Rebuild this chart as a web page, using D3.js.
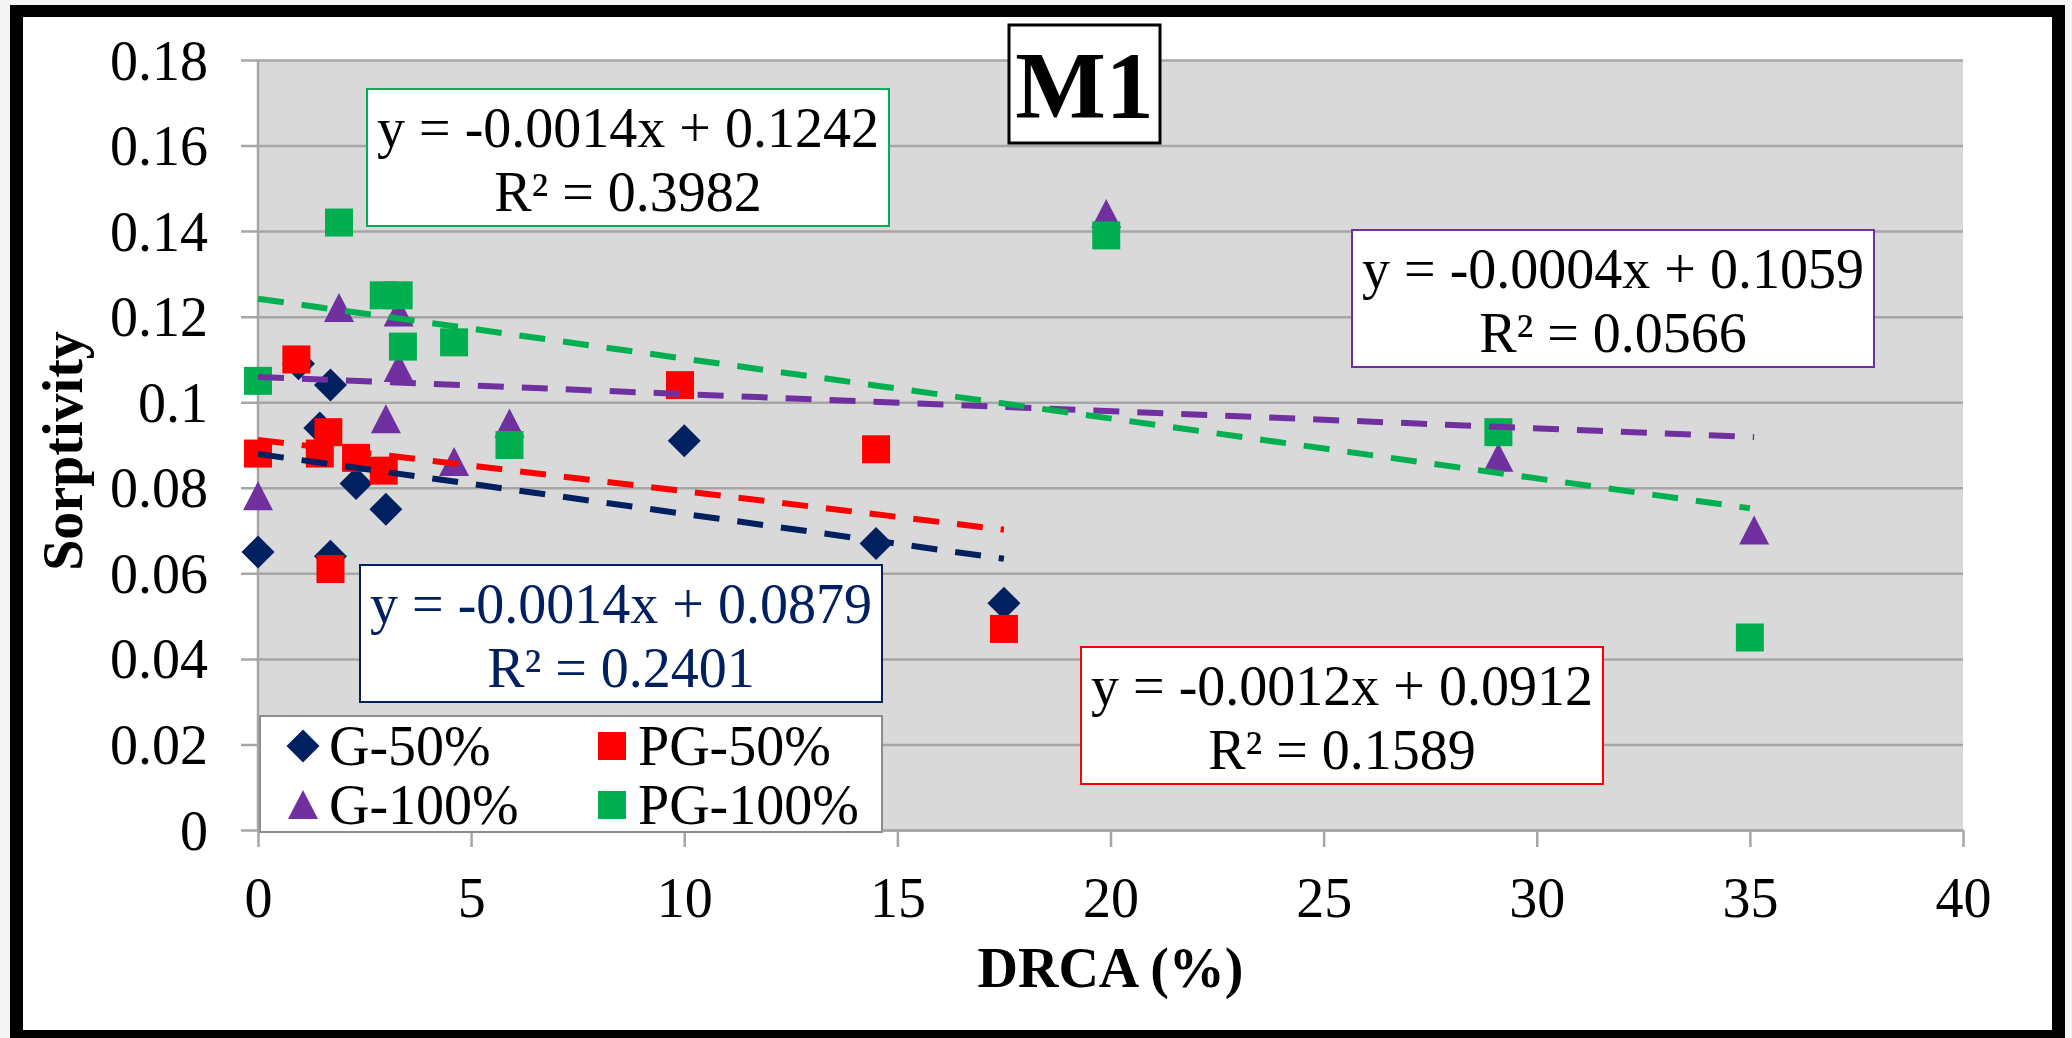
<!DOCTYPE html>
<html>
<head>
<meta charset="utf-8">
<script src="https://cdn.jsdelivr.net/npm/d3@7"></script>
<style>
  html, body { margin: 0; padding: 0; background: #f5f5f5; }
  svg { display: block; font-family: "Liberation Serif", "Times New Roman", serif; }
</style>
</head>
<body>
<svg id="chart" width="2072" height="1038"></svg>
<script>
// ---- data ----
const seriesNames  = ["G-50%", "PG-50%", "G-100%", "PG-100%"];
const seriesColors = ["#002060", "#FF0000", "#7030A0", "#00B050"];
const seriesShapes = ["diamond", "square", "triangle", "square"];

const g50X  = [0, 0.95, 1.45, 1.7, 1.7, 2.3, 3.0, 10.0, 14.5, 17.5];
const g50Y  = [0.065, 0.109, 0.094, 0.104, 0.064, 0.081, 0.075, 0.091, 0.067, 0.053];
const pg50X = [0, 0.9, 1.45, 1.65, 1.7, 2.3, 2.95, 9.9, 14.5, 17.5];
const pg50Y = [0.088, 0.110, 0.088, 0.093, 0.061, 0.087, 0.084, 0.104, 0.089, 0.047];
const g100X = [0, 1.9, 3.0, 3.3, 3.3, 4.6, 5.9, 19.9, 29.1, 35.1];
const g100Y = [0.078, 0.122, 0.096, 0.121, 0.108, 0.086, 0.095, 0.144, 0.087, 0.070];
const pg100X = [0, 1.9, 2.95, 3.3, 3.4, 4.6, 5.9, 19.9, 29.1, 35.0];
const pg100Y = [0.105, 0.142, 0.125, 0.125, 0.113, 0.114, 0.090, 0.139, 0.093, 0.045];

// linear trendlines (slope, intercept, R²) per series
const trendSlopes     = [-0.0014, -0.0012, -0.0004, -0.0014];
const trendIntercepts = [0.0879, 0.0912, 0.1059, 0.1242];
const trendR2         = ["0.2401", "0.1589", "0.0566", "0.3982"];

const xTicks = [0, 5, 10, 15, 20, 25, 30, 35, 40];
const xTickLabels = ["0", "5", "10", "15", "20", "25", "30", "35", "40"];
const yTicks = [0, 0.02, 0.04, 0.06, 0.08, 0.10, 0.12, 0.14, 0.16, 0.18];
const yTickLabels = ["0", "0.02", "0.04", "0.06", "0.08", "0.1", "0.12", "0.14", "0.16", "0.18"];

const chartTitle = "M1";
const xTitle = "DRCA (%)";
const yTitle = "Sorptivity";

// ---- layout ----
const plot = { left: 258, right: 1963, top: 60, bottom: 830 };
const FS = 56;
const gridColor = "#A6A6A6";

const svg = d3.select("#chart");

// outer black frame
svg.append("rect").attr("x", 10).attr("y", 5).attr("width", 2055).attr("height", 1033).attr("fill", "#000");
svg.append("rect").attr("x", 23).attr("y", 17).attr("width", 2029).attr("height", 1013).attr("fill", "#fff");

const x = d3.scaleLinear().domain([0, 40]).range([plot.left, plot.right]);
const y = d3.scaleLinear().domain([0, 0.18]).range([plot.bottom, plot.top]);

// plot background
svg.append("rect")
  .attr("x", plot.left).attr("y", plot.top)
  .attr("width", plot.right - plot.left).attr("height", plot.bottom - plot.top)
  .attr("fill", "#D9D9D9");

// y axis: gridlines that also stick out left as tick marks
const tickOut = 17;
const yAxis = d3.axisLeft(y)
  .tickValues(yTicks)
  .tickFormat((d, i) => yTickLabels[i])
  .tickSizeInner(-(plot.right - plot.left + tickOut))
  .tickSizeOuter(0)
  .tickPadding(33);
const gy = svg.append("g").attr("transform", `translate(${plot.left - tickOut},0)`).call(yAxis);
gy.select(".domain").remove();
gy.selectAll(".tick line").attr("stroke", gridColor).attr("stroke-width", 2.5);
gy.selectAll(".tick text").attr("fill", "#000").attr("font-size", FS)
  .attr("font-family", "'Liberation Serif','Times New Roman',serif").attr("dy", "0.34em");

// left axis line
svg.append("line")
  .attr("x1", plot.left).attr("x2", plot.left)
  .attr("y1", plot.top).attr("y2", plot.bottom)
  .attr("stroke", gridColor).attr("stroke-width", 2.5);

// x axis
const xAxis = d3.axisBottom(x)
  .tickValues(xTicks)
  .tickFormat((d, i) => xTickLabels[i])
  .tickSizeInner(17)
  .tickSizeOuter(0)
  .tickPadding(30);
const gx = svg.append("g").attr("transform", `translate(0,${plot.bottom})`).call(xAxis);
gx.select(".domain").attr("stroke", gridColor).attr("stroke-width", 2.5);
gx.selectAll(".tick line").attr("stroke", gridColor).attr("stroke-width", 2.5);
gx.selectAll(".tick text").attr("fill", "#000").attr("font-size", FS)
  .attr("font-family", "'Liberation Serif','Times New Roman',serif").attr("dy", "0.71em");

// axis titles
svg.append("text")
  .attr("x", (plot.left + plot.right) / 2).attr("y", 987)
  .attr("text-anchor", "middle").attr("font-size", FS).attr("font-weight", "bold")
  .text(xTitle);
svg.append("text")
  .attr("transform", `translate(82,${(plot.top + plot.bottom) / 2 + 6}) rotate(-90)`)
  .attr("text-anchor", "middle").attr("font-size", FS).attr("font-weight", "bold")
  .text(yTitle);

// marker shapes
function markerPath(shape) {
  if (shape === "diamond") return "M0,-16.5L16.5,0L0,16.5L-16.5,0Z";
  if (shape === "triangle") return "M0,-15L15,14L-15,14Z";
  return "M-14,-14H14V14H-14Z";
}

const seriesX = [g50X, pg50X, g100X, pg100X];
const seriesY = [g50Y, pg50Y, g100Y, pg100Y];

// points
seriesNames.forEach((name, s) => {
  const pts = seriesX[s].map((xv, i) => ({ x: xv, y: seriesY[s][i] }));
  svg.append("g").attr("class", "series")
    .selectAll("path").data(pts).join("path")
    .attr("transform", d => `translate(${x(d.x)},${y(d.y)})`)
    .attr("d", markerPath(seriesShapes[s]))
    .attr("fill", seriesColors[s]);
});

// trendlines drawn over the markers
seriesNames.forEach((name, s) => {
  const xMax = d3.max(seriesX[s]);
  const line = d3.line().x(d => x(d[0])).y(d => y(d[1]));
  svg.append("path")
    .attr("d", line([[0, trendIntercepts[s]], [xMax, trendIntercepts[s] + trendSlopes[s] * xMax]]))
    .attr("fill", "none")
    .attr("stroke", seriesColors[s])
    .attr("stroke-width", 6)
    .attr("stroke-dasharray", "26,18");
});

// regression equation boxes: [series index, left, top, text colour]
const eqBoxes = [
  [3, 367, 89, "#000"],
  [2, 1352, 230, "#000"],
  [0, 360, 565, "#002060"],
  [1, 1081, 647, "#000"]
];
// plain hyphen for the minus sign
const fmt4 = d3.formatLocale({ decimal: ".", thousands: ",", grouping: [3], currency: ["", ""], minus: "-" }).format(".4f");
eqBoxes.forEach(([s, bx, by, tc]) => {
  const bw = 522, bh = 137;
  const g = svg.append("g");
  g.append("rect").attr("x", bx).attr("y", by).attr("width", bw).attr("height", bh)
    .attr("fill", "#fff").attr("stroke", seriesColors[s]).attr("stroke-width", 2);
  g.append("text").attr("x", bx + bw / 2).attr("y", by + 58)
    .attr("text-anchor", "middle").attr("font-size", FS).attr("fill", tc)
    .text(`y = ${fmt4(trendSlopes[s])}x + ${fmt4(trendIntercepts[s])}`);
  g.append("text").attr("x", bx + bw / 2).attr("y", by + 122)
    .attr("text-anchor", "middle").attr("font-size", FS).attr("fill", tc)
    .text(`R² = ${trendR2[s]}`);
});

// title box
svg.append("rect").attr("x", 1009).attr("y", 25).attr("width", 151).attr("height", 118)
  .attr("fill", "#fff").attr("stroke", "#000").attr("stroke-width", 3);
svg.append("text").attr("x", 1084.5).attr("y", 118)
  .attr("text-anchor", "middle").attr("font-size", 96).attr("font-weight", "bold")
  .text(chartTitle);

// legend
const lg = svg.append("g");
lg.append("rect").attr("x", 260).attr("y", 716).attr("width", 622).attr("height", 116)
  .attr("fill", "#fff").attr("stroke", "#8C8C8C").attr("stroke-width", 2);
const legendPos = [[303, 746], [612, 746], [303, 805], [612, 805]];
seriesNames.forEach((name, s) => {
  const [lx, ly] = legendPos[s];
  lg.append("path").attr("transform", `translate(${lx},${ly})`)
    .attr("d", markerPath(seriesShapes[s])).attr("fill", seriesColors[s]);
  lg.append("text").attr("x", lx + 26).attr("y", ly + 19)
    .attr("font-size", FS).attr("fill", "#000").text(name);
});
</script>
</body>
</html>
